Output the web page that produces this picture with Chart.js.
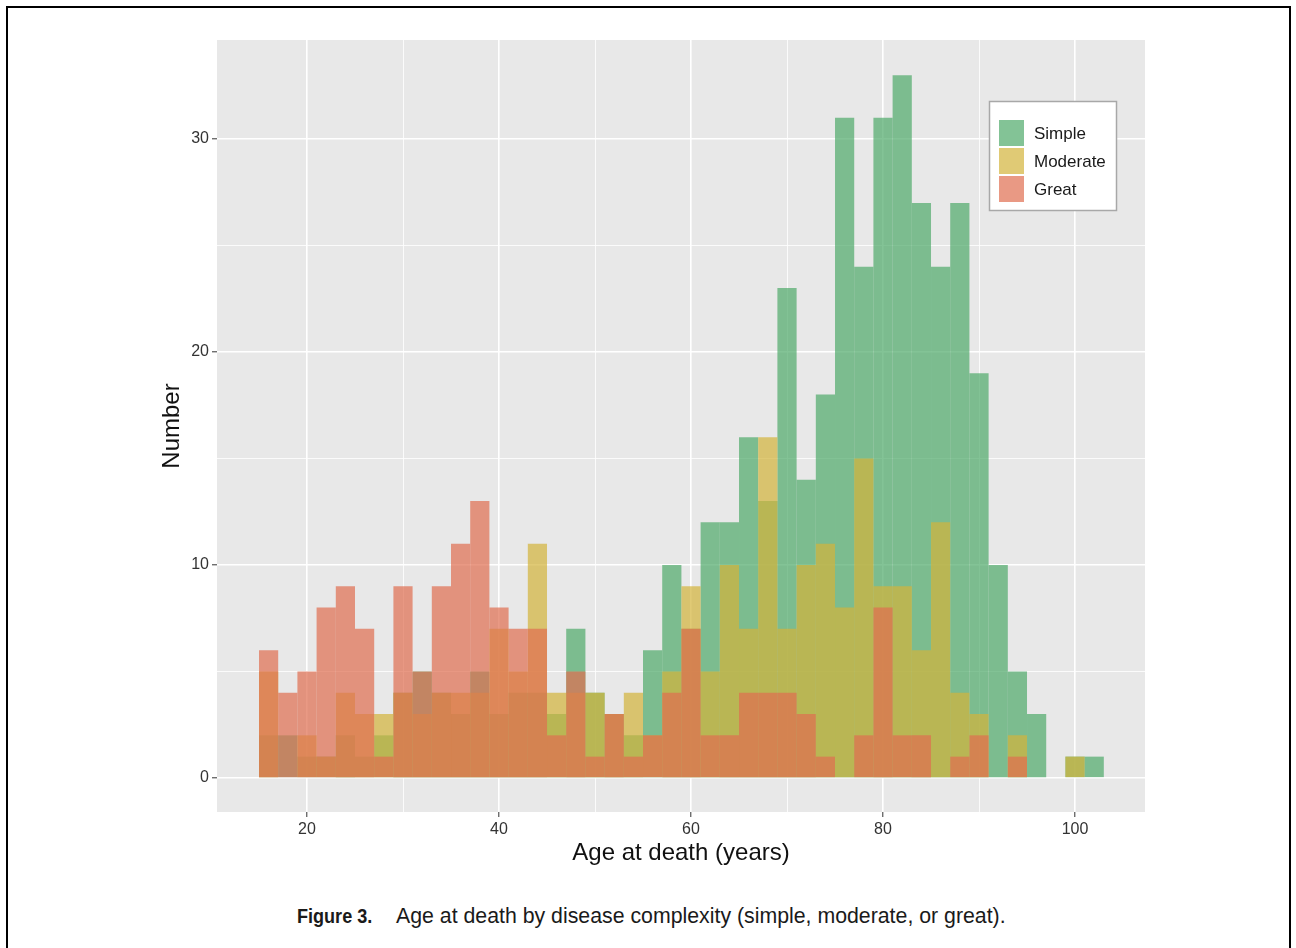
<!DOCTYPE html>
<html>
<head>
<meta charset="utf-8">
<script src="https://cdn.jsdelivr.net/npm/chart.js@4.4.1/dist/chart.umd.min.js"></script>
<style>
  body { margin: 0; background: #fff; width: 1296px; height: 948px; overflow: hidden; position: relative; font-family: "Liberation Sans", Arial, sans-serif; }
  #frame { position: absolute; left: 6px; top: 6px; width: 1281px; height: 980px; border: 2px solid #000; border-bottom: none; pointer-events: none; }
  #graph { position: absolute; left: 0; top: 0; }
  .cap { position: absolute; top: 904px; white-space: nowrap; color: #1a1a1a; }
  #figno { left: 297px; font-weight: bold; font-size: 21px; transform: scaleX(0.86); transform-origin: left center; }
  #captext { left: 396px; font-size: 21.3px; }
</style>
</head>
<body>
<canvas id="graph" width="1296" height="880"></canvas>
<div id="figno" class="cap">Figure 3.</div>
<div id="captext" class="cap">Age at death by disease complexity (simple, moderate, or great).</div>
<div id="frame"></div>
<script>
// bin centres (2-year bins, 15 to 103)
const ageBins = [16, 18, 20, 22, 24, 26, 28, 30, 32, 34, 36, 38, 40, 42, 44, 46, 48, 50, 52, 54, 56, 58,
                 60, 62, 64, 66, 68, 70, 72, 74, 76, 78, 80, 82, 84, 86, 88, 90, 92, 94, 96, 98, 100, 102]

const simple   = [2, 2, 1, 1, 2, 1, 2, 4, 5, 4, 3, 5, 3, 4, 4, 3, 7, 4, 3, 2, 6, 10,
                  7, 12, 12, 16, 13, 23, 14, 18, 31, 24, 31, 33, 27, 24, 27, 19, 10, 5, 3, 0, 1, 1]
const moderate = [5, 0, 2, 1, 4, 3, 3, 4, 3, 4, 4, 4, 7, 5, 11, 4, 4, 4, 3, 4, 2, 5,
                  9, 5, 10, 7, 16, 7, 10, 11, 8, 15, 9, 9, 6, 12, 4, 3, 0, 2, 0, 0, 1, 0]
const great    = [6, 4, 5, 8, 9, 7, 1, 9, 5, 9, 11, 13, 8, 7, 7, 2, 5, 1, 3, 1, 2, 4,
                  7, 2, 2, 4, 4, 4, 3, 1, 0, 2, 8, 2, 2, 0, 1, 2, 0, 1, 0, 0, 0, 0]

const groupNames = ['Simple', 'Moderate', 'Great']
const groupColors = ['rgba(78,169,105,0.7)', 'rgba(211,179,58,0.7)', 'rgba(223,110,80,0.7)']

const panelBg = '#e8e8e8'

const toPoints = (arr) => arr.map((v, i) => ({x: ageBins[i], y: v}))

// grey panel behind the grid + ggplot-ish legend box inside the panel
const ggPanel = {
    id: 'ggPanel',
    beforeDraw(chart) {
        const {ctx, chartArea: a} = chart
        ctx.save()
        ctx.fillStyle = panelBg
        ctx.fillRect(a.left, a.top, a.right - a.left, a.bottom - a.top)
        ctx.restore()
    },
    afterDraw(chart) {
        const ctx = chart.ctx
        ctx.save()
        ctx.fillStyle = '#fff'
        ctx.fillRect(989, 101, 128, 110)
        ctx.strokeStyle = '#a8a8a8'
        ctx.lineWidth = 1.5
        ctx.strokeRect(989.5, 101.5, 127, 109)
        ctx.font = '17px "Liberation Sans", Arial, sans-serif'
        ctx.textBaseline = 'middle'
        groupNames.forEach((name, i) => {
            const y = 120 + i * 28
            ctx.fillStyle = groupColors[i]
            ctx.fillRect(999, y, 25, 26)
            ctx.fillStyle = '#1a1a1a'
            ctx.fillText(name, 1034, y + 14)
        })
        ctx.restore()
    }
}

const ctx = document.getElementById('graph').getContext('2d')

new Chart(ctx, {
    type: 'bar',
    data: {
        datasets: [
            { label: groupNames[0], data: toPoints(simple),   backgroundColor: groupColors[0], order: 3 },
            { label: groupNames[1], data: toPoints(moderate), backgroundColor: groupColors[1], order: 2 },
            { label: groupNames[2], data: toPoints(great),    backgroundColor: groupColors[2], order: 1 },
        ]
    },
    options: {
        responsive: false,
        animation: false,
        grouped: false,
        barPercentage: 1,
        categoryPercentage: 1,
        inflateAmount: 0,
        borderWidth: 0,
        layout: { padding: { left: 150, right: 151, top: 40, bottom: 10 } },
        plugins: {
            legend: { display: false },
            tooltip: { enabled: false }
        },
        scales: {
            x: {
                type: 'linear',
                min: 10.625,
                max: 107.29,
                offset: false,
                afterFit: (s) => { s.height = 58 },
                border: { display: false },
                grid: {
                    offset: false,
                    color: '#fff',
                    lineWidth: (c) => c.tick && c.tick.value % 20 === 0 ? 1.6 : 0.8,
                    tickColor: (c) => c.tick && c.tick.value % 20 === 0 ? '#333' : 'rgba(0,0,0,0)',
                    tickLength: 5,
                    tickWidth: 1
                },
                ticks: {
                    stepSize: 10,
                    includeBounds: false,
                    autoSkip: false,
                    maxRotation: 0,
                    padding: 3,
                    color: '#333',
                    font: { family: '"Liberation Sans", Arial, sans-serif', size: 16 },
                    callback: (v) => v % 20 === 0 ? String(v) : ''
                },
                title: {
                    display: true,
                    text: 'Age at death (years)',
                    color: '#111',
                    font: { family: '"Liberation Sans", Arial, sans-serif', size: 24 },
                    padding: { top: 0, bottom: 2.6 }
                }
            },
            y: {
                min: -1.6,
                max: 34.65,
                afterFit: (s) => { s.width = 67 },
                border: { display: false },
                grid: {
                    color: '#fff',
                    lineWidth: (c) => c.tick && c.tick.value % 10 === 0 ? 1.6 : 0.8,
                    tickColor: (c) => c.tick && c.tick.value % 10 === 0 ? '#333' : 'rgba(0,0,0,0)',
                    tickLength: 5,
                    tickWidth: 1
                },
                ticks: {
                    stepSize: 5,
                    includeBounds: false,
                    autoSkip: false,
                    padding: 3,
                    color: '#333',
                    font: { family: '"Liberation Sans", Arial, sans-serif', size: 16 },
                    callback: (v) => v % 10 === 0 ? String(v) : ''
                },
                title: {
                    display: true,
                    text: 'Number',
                    color: '#111',
                    font: { family: '"Liberation Sans", Arial, sans-serif', size: 24 },
                    padding: { top: 8, bottom: 0 }
                }
            }
        }
    },
    plugins: [ggPanel]
})
</script>
</body>
</html>
